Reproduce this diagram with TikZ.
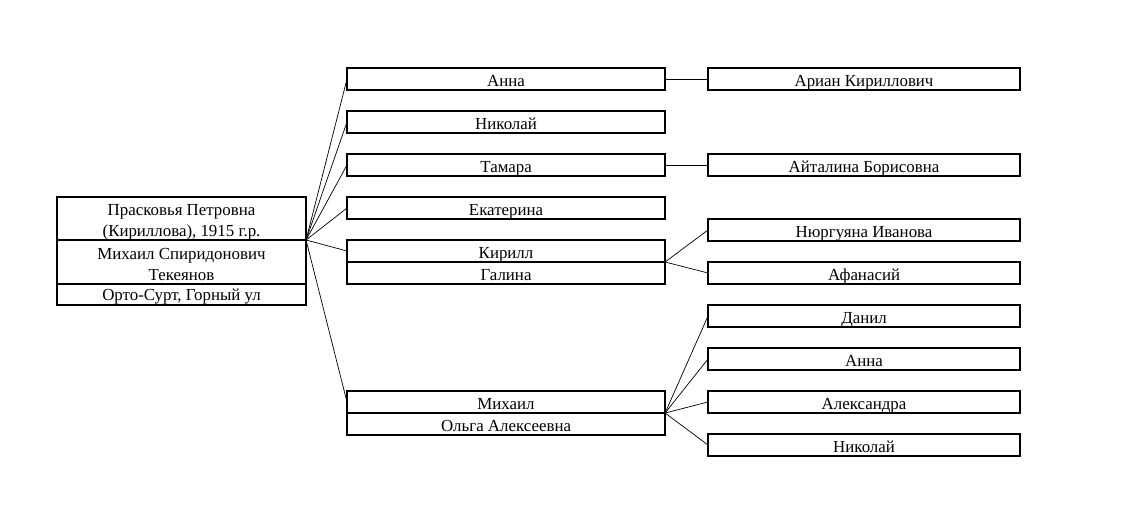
\documentclass[tikz,border=0pt]{standalone}
\usepackage{fontspec}
\setmainfont{Liberation Serif}
\usetikzlibrary{positioning}

\tikzset{
  person/.style={draw, line width=0.9pt, minimum height=0.55cm, inner sep=0pt, outer sep=0pt,
    anchor=north west, align=center, font=\fontsize{12}{15}\selectfont,
    text height=2ex, text depth=0.3ex},
  elder/.style={person, minimum width=6.225cm},
  twolines/.style={text height=26pt, text depth=0pt},
  kid/.style={person, minimum width=7.95cm, text height=2.5ex},
  grandkid/.style={person, minimum width=7.8cm, text height=2.5ex},
  link/.style={line width=0.5pt}
}

\begin{document}
\begin{tikzpicture}[x=0.025cm,y=-0.025cm]
		\useasboundingbox (0,0) rectangle (1121,521);
		% root couple
		\node[elder, twolines, minimum height=1.075cm] (praskovya) at (57,197) {Прасковья Петровна\\(Кириллова), 1915 г.р.};
		\node[elder, twolines, minimum height=1.1cm, below=0pt of praskovya] (mikhailsp) {Михаил Спиридонович\\Текеянов};
		\node[elder, minimum height=0.525cm, below=0pt of mikhailsp] (place) {Орто-Сурт, Горный ул};
		
		% children
		\node[kid] (anna) at (347,68) {Анна};
		\node[kid] (nikolai) at (347,111) {Николай};
		\node[kid] (tamara) at (347,154) {Тамара};
		\node[kid] (ekaterina) at (347,197) {Екатерина};
		\node[kid] (kirill) at (347,240) {Кирилл};
		\node[kid, below=0pt of kirill] (galina) {Галина};
		\node[kid] (mikhail) at (347,391) {Михаил};
		\node[kid, below=0pt of mikhail] (olga) {Ольга Алексеевна};
		
		\foreach \k in {anna,nikolai,tamara,ekaterina,kirill,mikhail}
		\draw[link] (praskovya.south east) -- (\k.west);
		
		% grandchildren
		\node[grandkid] (arian) at (708,68) {Ариан Кириллович};
		\node[grandkid] (aitalina) at (708,154) {Айталина Борисовна};
		\node[grandkid] (nyurguyana) at (708,219) {Нюргуяна Иванова};
		\node[grandkid] (afanasii) at (708,262) {Афанасий};
		\node[grandkid] (danil) at (708,305) {Данил};
		\node[grandkid] (annam) at (708,348) {Анна};
		\node[grandkid] (aleksandra) at (708,391) {Александра};
		\node[grandkid] (nikolaim) at (708,434) {Николай};
		
		\draw[link] (anna.east) -- (arian.west);
		\draw[link] (tamara.east) -- (aitalina.west);
		\foreach \g in {nyurguyana,afanasii}
		\draw[link] (kirill.south east) -- (\g.west);
		\foreach \g in {danil,annam,aleksandra,nikolaim}
		\draw[link] (mikhail.south east) -- (\g.west);
\end{tikzpicture}
\end{document}
